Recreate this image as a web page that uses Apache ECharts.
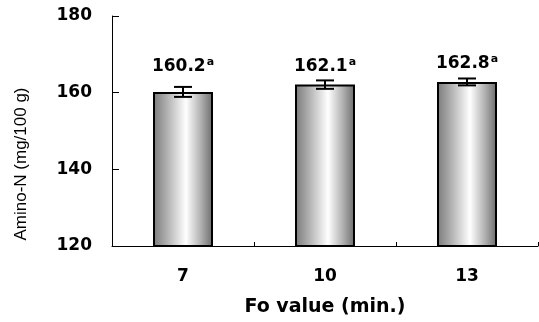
<!DOCTYPE html>
<html><head><meta charset="utf-8">
<script src="https://cdn.jsdelivr.net/npm/echarts@6/dist/echarts.min.js"></script>
<style>html,body{margin:0;padding:0;background:#fff;overflow:hidden}#c{width:539px;height:322px}</style>
</head><body><div id="c"></div>
<script>
var categories = ['7', '10', '13'];
var means = [160.2, 162.1, 162.8];
var errors = [1.3, 1.1, 0.9];
var labelTexts = ['160.2', '162.1', '162.8'];
var letters = ['a', 'a', 'a'];
var yTicks = [120, 140, 160, 180];

var F = '"DejaVu Sans", sans-serif';
var FA = '"Liberation Sans", Arial, sans-serif';
var labelDist = [16, 9, 9];
var chart = echarts.init(document.getElementById('c'));
var grad = new echarts.graphic.LinearGradient(0, 0, 1, 0, [
  {offset: 0, color: '#7a7a7a'},
  {offset: 0.2, color: '#a8a8a8'},
  {offset: 0.55, color: '#ffffff'},
  {offset: 0.8, color: '#b0b0b0'},
  {offset: 1, color: '#6a6a6a'}
]);
chart.setOption({
  animation: false,
  grid: {left: 112, top: 16, right: 1, bottom: 72, containLabel: false},
  xAxis: {
    type: 'category', data: categories,
    name: 'Fo value (min.)', nameLocation: 'middle', nameGap: 52,
    nameTextStyle: {fontFamily: F, fontWeight: 'bold', fontSize: 19, color: '#000'},
    axisLine: {lineStyle: {color: '#000', width: 1}},
    axisTick: {show: true, inside: true, length: 4, lineStyle: {color: '#000'}},
    axisLabel: {fontFamily: F, fontWeight: 'bold', fontSize: 17, color: '#000', margin: 22}
  },
  yAxis: {
    type: 'value', min: yTicks[0], max: yTicks[yTicks.length - 1], interval: 20,
    name: 'Amino-N (mg/100 g)', nameLocation: 'middle', nameGap: 82,
    nameTextStyle: {fontFamily: FA, fontSize: 17, color: '#000', padding: [0, 66, 0, 0]},
    axisLine: {show: true, lineStyle: {color: '#000', width: 1}},
    axisTick: {show: true, inside: true, length: 7, lineStyle: {color: '#000'}},
    splitLine: {show: false},
    axisLabel: {fontFamily: F, fontWeight: 'bold', fontSize: 17, color: '#000', margin: 20}
  },
  series: [
    {
      type: 'bar', barWidth: 60,
      data: means.map(function (v, i) { return {value: v, label: {distance: labelDist[i]}}; }),
      itemStyle: {color: grad, borderColor: '#000', borderWidth: 2},
      label: {
        show: true, position: 'top',
        formatter: function (p) { return '{n|' + labelTexts[p.dataIndex] + '}{s|' + letters[p.dataIndex] + '}'; },
        rich: {
          n: {fontFamily: F, fontWeight: 'bold', fontSize: 17, color: '#000'},
          s: {fontFamily: F, fontWeight: 'bold', fontSize: 11, color: '#000', verticalAlign: 'top', padding: [0, 0, 8, 1]}
        }
      },
      z: 2
    },
    {
      type: 'custom', z: 3,
      data: means.map(function (m, i) { return [i, m - errors[i], m + errors[i]]; }),
      renderItem: function (params, api) {
        var lo = api.coord([api.value(0), api.value(1)]);
        var hi = api.coord([api.value(0), api.value(2)]);
        var w = 9;
        var st = {stroke: '#000', lineWidth: 2};
        return {type: 'group', children: [
          {type: 'line', shape: {x1: lo[0], y1: lo[1], x2: hi[0], y2: hi[1]}, style: st},
          {type: 'line', shape: {x1: hi[0] - w, y1: hi[1], x2: hi[0] + w, y2: hi[1]}, style: st},
          {type: 'line', shape: {x1: lo[0] - w, y1: lo[1], x2: lo[0] + w, y2: lo[1]}, style: st}
        ]};
      }
    }
  ]
});
</script></body></html>
